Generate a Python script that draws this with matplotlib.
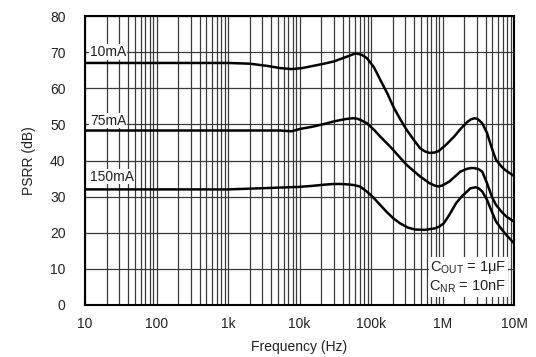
import matplotlib
matplotlib.use('Agg')
import matplotlib.pyplot as plt
from matplotlib.ticker import LogLocator, FixedLocator, NullFormatter

plt.rcParams['font.family'] = ['Liberation Sans', 'DejaVu Sans']
plt.rcParams['mathtext.default'] = 'regular'

# PSRR vs frequency
freq_10ma = [10, 100, 1e3, 2e3, 3.5e3, 5.3e3, 7.8e3, 11e3, 15.6e3, 22e3, 30e3, 40e3,
             50e3, 56e3, 61e3, 67e3, 75e3, 88e3, 110e3, 135e3, 170e3, 205e3, 255e3,
             315e3, 400e3, 485e3, 570e3, 660e3, 770e3, 880e3, 1.1e6, 1.45e6, 1.8e6,
             2.2e6, 2.5e6, 2.8e6, 3.1e6, 3.6e6, 4.2e6, 4.9e6, 5.6e6, 6.7e6, 7.5e6,
             10e6]
psrr_10ma = [67, 67, 67, 66.8, 66.2, 65.6, 65.3, 65.6, 66.2, 66.8, 67.4, 68.3,
             69.0, 69.4, 69.6, 69.5, 69.2, 68.3, 65.8, 62.3, 58.5, 54.9, 51.5,
             48.5, 45.6, 43.4, 42.5, 42.1, 42.2, 42.6, 44.2, 46.6, 48.8,
             50.6, 51.4, 51.7, 51.5, 50.3, 47.6, 43.4, 40.2, 38.3, 37.4,
             35.7]

freq_75ma = [10, 100, 1e3, 3e3, 5.3e3, 7.8e3, 10e3, 15.6e3, 22e3, 30e3, 42e3, 50e3,
             56e3, 63e3, 70e3, 88e3, 110e3, 135e3, 170e3, 205e3, 255e3, 315e3, 400e3,
             485e3, 660e3, 770e3, 880e3, 1e6, 1.25e6, 1.5e6, 1.77e6, 2.2e6, 2.5e6,
             2.8e6, 3.2e6, 3.6e6, 4.2e6, 4.9e6, 5.6e6, 6.7e6, 7.8e6, 10e6]
psrr_75ma = [48.3, 48.3, 48.3, 48.3, 48.3, 48.1, 48.7, 49.4, 50.1, 50.8, 51.4, 51.6,
             51.7, 51.6, 51.3, 50.3, 48.5, 46.6, 44.6, 42.9, 40.8, 38.8, 37.0,
             35.6, 33.7, 33.1, 32.8, 33.1, 34.2, 35.6, 36.9, 37.7, 37.9,
             37.9, 37.6, 36.9, 33.7, 30.0, 27.7, 25.8, 24.5, 23.1]

freq_150ma = [10, 100, 1e3, 2e3, 5.3e3, 10e3, 15.6e3, 22e3, 30e3, 38e3, 46e3, 58e3,
              70e3, 85e3, 105e3, 130e3, 165e3, 205e3, 255e3, 330e3, 415e3, 560e3,
              780e3, 900e3, 1.04e6, 1.25e6, 1.55e6, 1.85e6, 2.2e6, 2.45e6, 2.9e6,
              3.2e6, 3.6e6, 4.2e6, 4.9e6, 5.6e6, 6.7e6, 7.8e6, 10e6]
psrr_150ma = [32, 32, 32, 32.2, 32.5, 32.7, 33.0, 33.3, 33.5, 33.5, 33.4, 33.2,
              32.8, 31.6, 30.0, 28.0, 25.8, 24.0, 22.6, 21.4, 20.9, 20.8,
              21.2, 21.7, 22.6, 25.0, 28.2, 30.0, 31.4, 32.3, 32.6,
              32.3, 31.4, 29.1, 25.8, 23.1, 21.0, 19.4, 17.1]

series_labels = ['10mA', '75mA', '150mA']
label_y = [70, 51, 35.5]

xtick_vals = [10, 100, 1e3, 1e4, 1e5, 1e6, 1e7]
xtick_labels = ['10', '100', '1k', '10k', '100k', '1M', '10M']
ytick_vals = [0, 10, 20, 30, 40, 50, 60, 70, 80]

txt = '#222222'
grid_c = '#3a3a3a'

fig = plt.figure(figsize=(5.36, 3.57), dpi=100)
ax = fig.add_axes([85/536, 1 - 305/357, 429/536, 289/357])

ax.set_xscale('log')
ax.set_xlim(10, 1e7)
ax.set_ylim(0, 80)

ax.xaxis.set_major_locator(FixedLocator(xtick_vals))
ax.xaxis.set_minor_locator(LogLocator(base=10, subs=range(2, 10)))
ax.xaxis.set_minor_formatter(NullFormatter())
ax.set_xticks(xtick_vals)
ax.set_xticklabels(xtick_labels)
ax.set_yticks(ytick_vals)

ax.grid(which='major', axis='both', color=grid_c, lw=0.9)
ax.grid(which='minor', axis='x', color=grid_c, lw=0.9)
ax.set_axisbelow(True)

ax.tick_params(which='both', length=0, labelsize=10, labelcolor=txt)
ax.tick_params(axis='x', pad=9)
ax.tick_params(axis='y', pad=14)
for s in ax.spines.values():
    s.set_linewidth(1.5)
    s.set_color('black')

ax.plot(freq_10ma, psrr_10ma, color='black', lw=1.8)
ax.plot(freq_75ma, psrr_75ma, color='black', lw=1.8)
ax.plot(freq_150ma, psrr_150ma, color='black', lw=1.8)

for lab, y in zip(series_labels, label_y):
    ax.text(11.8, y, lab, fontsize=10, color=txt, ha='left', va='center',
            bbox=dict(facecolor='white', edgecolor='none', pad=0.5))

ax.text(7.9e6, 10.5, 'C$_{OUT}$ = 1\u03bcF', fontsize=10.5, color=txt, ha='right', va='center',
        bbox=dict(facecolor='white', edgecolor='none', pad=1))
ax.text(7.9e6, 5, 'C$_{NR}$ = 10nF', fontsize=10.5, color=txt, ha='right', va='center',
        bbox=dict(facecolor='white', edgecolor='none', pad=1))

ax.set_xlabel('Frequency (Hz)', fontsize=10, color=txt, labelpad=6)
ax.set_ylabel('PSRR (dB)', fontsize=10, color=txt, labelpad=10)

fig.savefig('out.png', dpi=100)
